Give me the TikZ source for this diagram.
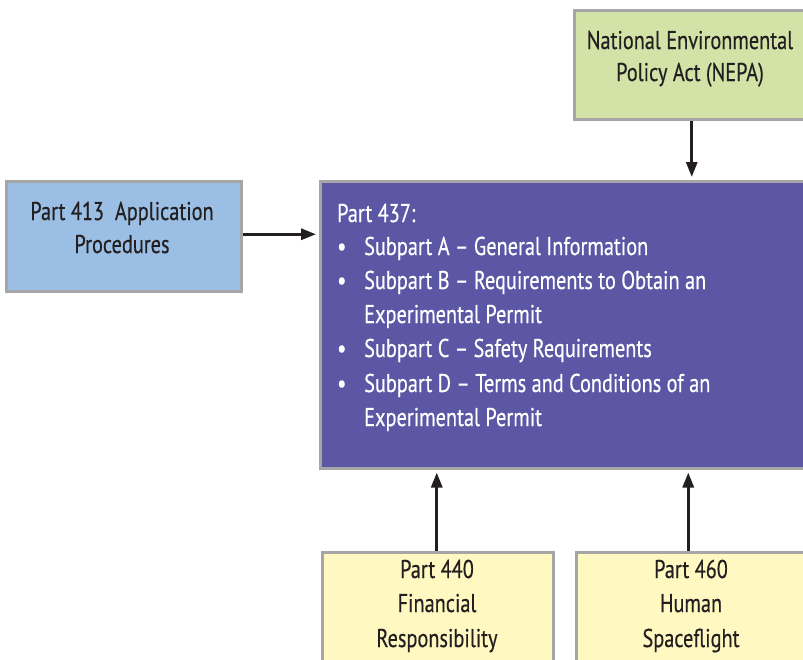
\documentclass[tikz,border=0pt]{standalone}
\usepackage{fontspec}
\setmainfont{PT Sans}[FakeStretch=0.79,FakeBold=0.4]
\usetikzlibrary{arrows.meta}
\definecolor{nepagreen}{HTML}{D3E3A7}
\definecolor{partblue}{HTML}{9BBFE4}
\definecolor{partpurple}{HTML}{5B57A4}
\definecolor{partyellow}{HTML}{FFF9C1}
\definecolor{boxgray}{HTML}{A6A6A6}
\definecolor{textdark}{HTML}{231F20}
\begin{document}
\begin{tikzpicture}[x=1pt,y=-1pt,
  box/.style={draw=boxgray, line width=2.5pt, inner sep=0pt, anchor=north west},
  txt/.style={inner sep=0pt, font=\fontsize{25.7}{34}\selectfont, text=textdark},
  wtxt/.style={txt, text=white, anchor=base west},
  arr/.style={draw=textdark, line width=3pt, -{Triangle[length=15pt,width=11pt]}, shorten >=3pt}]
\useasboundingbox (0,0) rectangle (803,659);
\clip (0,0) rectangle (803,659);
% boxes
\node[box, fill=nepagreen, minimum width=235pt, minimum height=109pt] (nepa) at (573,9) {};
\node[box, fill=partblue, minimum width=235pt, minimum height=110pt] (p413) at (5,180) {};
\node[box, fill=partpurple, minimum width=500pt, minimum height=287pt] (p437) at (319,180) {};
\node[box, fill=partyellow, minimum width=231pt, minimum height=130pt] (p440) at (321,551) {};
\node[box, fill=partyellow, minimum width=234pt, minimum height=130pt] (p460) at (575,551) {};
% texts
\node[txt, anchor=base] (nepa1) at (690,49) {National Environmental};
\node[txt, anchor=base] (nepa2) at (690,81) {Policy Act (NEPA)};
\node[txt, anchor=base] (t413a) at (122,220) {Part 413\ \ Application};
\node[txt, anchor=base] (t413b) at (122,253) {Procedures};
\node[wtxt] (l0) at (337,222) {Part 437:};
\node[wtxt] (b1) at (337,255) {\textbullet};
\node[wtxt] (l1) at (364,255) {Subpart A – General Information};
\node[wtxt] (b2) at (337,289) {\textbullet};
\node[wtxt] (l2) at (364,289) {Subpart B – Requirements to Obtain an};
\node[wtxt] (l3) at (364,323) {Experimental Permit};
\node[wtxt] (b3) at (337,357) {\textbullet};
\node[wtxt] (l4) at (364,357) {Subpart C – Safety Requirements};
\node[wtxt] (b4) at (337,392) {\textbullet};
\node[wtxt] (l5) at (364,392) {Subpart D – Terms and Conditions of an};
\node[wtxt] (l6) at (364,426) {Experimental Permit};
\node[txt, anchor=base] (t440a) at (437,578) {Part 440};
\node[txt, anchor=base] (t440b) at (437,612) {Financial};
\node[txt, anchor=base] (t440c) at (437,647) {Responsibility};
\node[txt, anchor=base] (t460a) at (691,578) {Part 460};
\node[txt, anchor=base] (t460b) at (691,612) {Human};
\node[txt, anchor=base] (t460c) at (691,647) {Spaceflight};
% connectors
\draw[arr] (nepa.south) -- (nepa.south |- p437.north);
\draw[arr] ([yshift=2pt]p413.east) -- ([yshift=2pt]p413.east -| p437.west);
\draw[arr] ([xshift=-1pt]p440.north) -- ([xshift=-1pt]p440.north |- p437.south);
\draw[arr] ([xshift=-5pt]p460.north) -- ([xshift=-5pt]p460.north |- p437.south);
\end{tikzpicture}
\end{document}
